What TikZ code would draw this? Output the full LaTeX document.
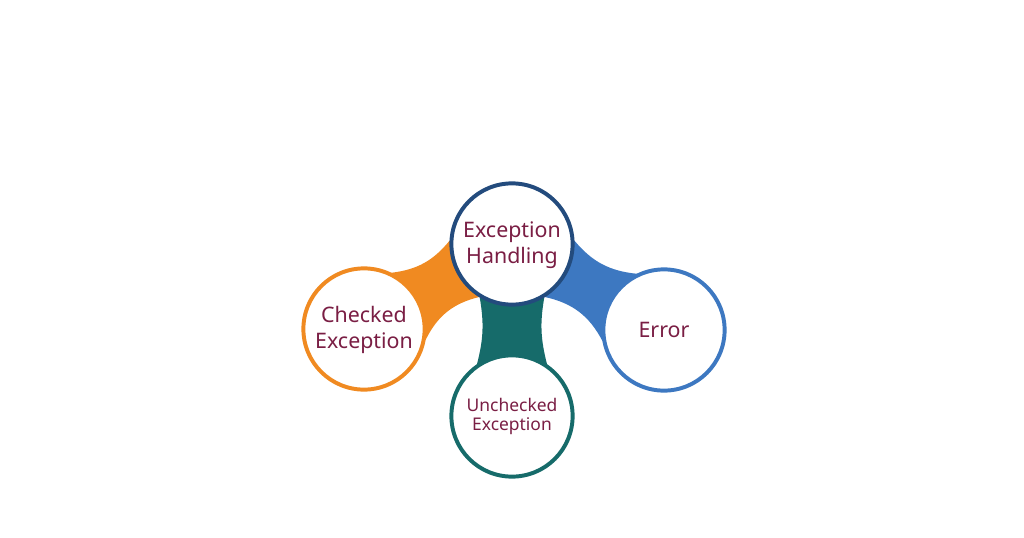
\documentclass[tikz,border=0pt]{standalone}
\usepackage{fontspec}
\setmainfont{Noto Sans}
\usepackage{tikz}
\usetikzlibrary{backgrounds,positioning}
\definecolor{hborder}{RGB}{35,75,125}
\definecolor{orangeband}{RGB}{240,138,33}
\definecolor{tealband}{RGB}{22,107,106}
\definecolor{blueband}{RGB}{61,120,193}
\definecolor{labeltext}{RGB}{122,30,68}
\begin{document}
\begin{tikzpicture}[x=0.025cm,y=-0.025cm,
  bubble/.style={circle, draw, line width=2.8pt, fill=white, minimum size=3.03cm,
    inner sep=0pt, align=center, text=labeltext, font=\fontsize{15.2}{18.6}\selectfont}]
\useasboundingbox (0,0) rectangle (1024,538);
\node[bubble, draw=hborder] (EH) at (512,244) {\strut Exception\\Handling};
\node[bubble, draw=orangeband] (CE) at (364,329) {\strut Checked\\Exception};
\node[bubble, draw=blueband] (ER) at (664,330) {Error};
\node[bubble, draw=tealband, font=\fontsize{12.4}{13.8}\selectfont] (UE) at (512,416) {\strut Unchecked\\Exception};
\begin{scope}[on background layer]
\path [fill, color=white] (0,0) rectangle (1024,538);
\path [fill, color=orangeband] (CE.center) -- (CE.64) to[bend right=22] (EH.177) -- (EH.center) -- (EH.238) to[bend right=25] (CE.-10) -- cycle;
\path [fill, color=tealband] (EH.center) -- (EH.239) to[bend left=12] (UE.124) -- (UE.center) -- (UE.56) to[bend left=12] (EH.301) -- cycle;
\path [fill, color=blueband] (EH.center) -- (EH.3) to[bend right=22] (ER.116) -- (ER.center) -- (ER.190) to[bend right=25] (EH.302) -- cycle;
\end{scope}
\end{tikzpicture}
\end{document}
